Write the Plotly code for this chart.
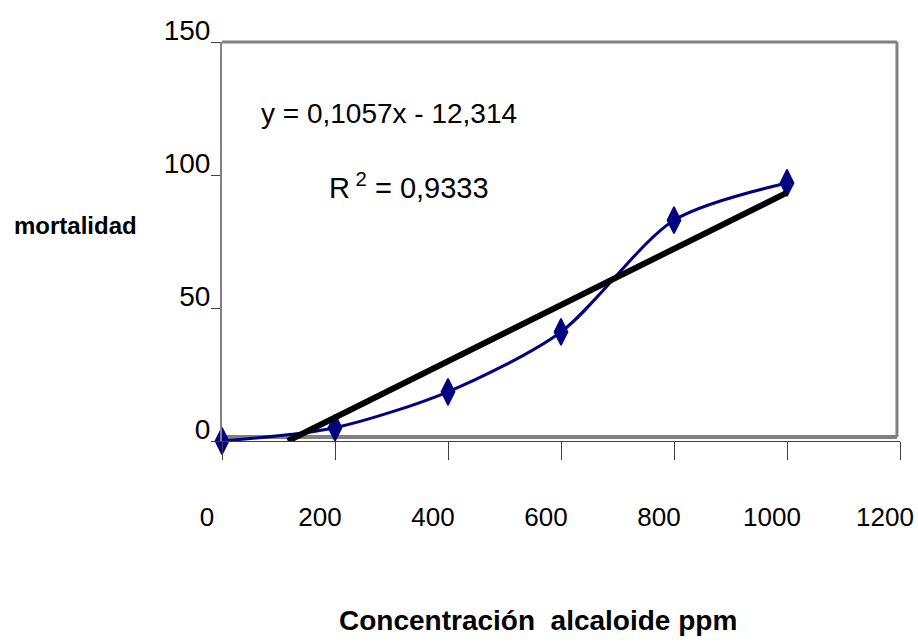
import numpy as np
import plotly.graph_objects as go

# Mortality (%) versus alkaloid concentration (ppm)
concentracion = [0, 200, 400, 600, 800, 1000]
mortalidad = [0, 5, 18.5, 41, 83, 97]

# Linear trend reported on the chart
pendiente = 0.1057
intercepto = -12.314
r2 = 0.9333

x_ticks = [0, 200, 400, 600, 800, 1000, 1200]
y_ticks = [0, 50, 100, 150]

FONT = "Liberation Sans, Arial, Helvetica, sans-serif"

# trend line starts where it crosses y = 0 and runs to the last dose
x_ini = -intercepto / pendiente
x_tend = np.array([x_ini, max(concentracion)])
y_tend = pendiente * x_tend + intercepto

fig = go.Figure()

fig.add_trace(go.Scatter(
    x=concentracion, y=mortalidad,
    mode="lines+markers",
    line=dict(color="#000080", width=3, shape="spline", smoothing=0.8),
    marker=dict(symbol="diamond-tall", size=19, color="#000080",
                line=dict(color="#000080", width=1.5)),
    showlegend=False, cliponaxis=False,
))

fig.add_trace(go.Scatter(
    x=x_tend, y=y_tend,
    mode="lines",
    line=dict(color="black", width=6),
    showlegend=False,
))

# gray frame of the plot area (top, right, bottom)
frame = dict(type="line", xref="paper", yref="paper",
             line=dict(color="#808080", width=3), layer="below")
fig.add_shape(**frame, x0=0, x1=0.9955, y0=1, y1=1)
fig.add_shape(**frame, x0=0.9955, x1=0.9955, y0=0.01, y1=1)
fig.add_shape(**{**frame, "line": dict(color="#808080", width=4)},
              x0=0, x1=0.9955, y0=0.01, y1=0.01)

fig.add_annotation(
    x=65, y=123, xref="x", yref="y", xanchor="left", yanchor="middle",
    text=f"y = {str(pendiente).replace('.', ',')}x - {str(-intercepto).replace('.', ',')}",
    showarrow=False, font=dict(family=FONT, size=28, color="black"),
)
fig.add_annotation(
    x=186, y=96, xref="x", yref="y", xanchor="left", yanchor="middle",
    text=f"R<sup> 2</sup> = {str(r2).replace('.', ',')}",
    showarrow=False, font=dict(family=FONT, size=29, color="black"),
)

fig.add_annotation(
    x=-0.31, y=0.54, xref="paper", yref="paper", xanchor="left", yanchor="middle",
    text="<b>mortalidad</b>", showarrow=False,
    font=dict(family=FONT, size=24, color="black"),
)
fig.add_annotation(
    x=0.4668, y=-0.449, xref="paper", yref="paper", xanchor="center", yanchor="middle",
    text="<b>Concentración\u00a0 alcaloide ppm</b>", showarrow=False,
    font=dict(family=FONT, size=28, color="black"),
)

fig.update_layout(
    width=918, height=643,
    margin=dict(l=222, r=18, t=42, b=202, autoexpand=False),
    paper_bgcolor="white", plot_bgcolor="white",
    xaxis=dict(
        range=[0, 1200], tickvals=x_ticks, ticktext=[str(v) for v in x_ticks],
        showgrid=False, zeroline=False, automargin=False,
        showline=True, linecolor="#404040", linewidth=1,
        ticks="outside", ticklen=18, tickcolor="#404040", tickwidth=1,
        ticklabelstandoff=35, ticklabelshift=-15, ticklabeloverflow="allow",
        tickfont=dict(family=FONT, size=26, color="black"),
    ),
    yaxis=dict(
        range=[0, 150], tickvals=y_ticks, ticktext=[str(v) for v in y_ticks],
        showgrid=False, zeroline=False, automargin=False,
        showline=True, linecolor="#808080", linewidth=2,
        ticks="outside", ticklen=9, tickcolor="#404040", tickwidth=1,
        ticklabelstandoff=-5, ticklabelshift=-12, ticklabeloverflow="allow",
        tickfont=dict(family=FONT, size=28, color="black"),
    ),
)

fig.write_html("out.html")
